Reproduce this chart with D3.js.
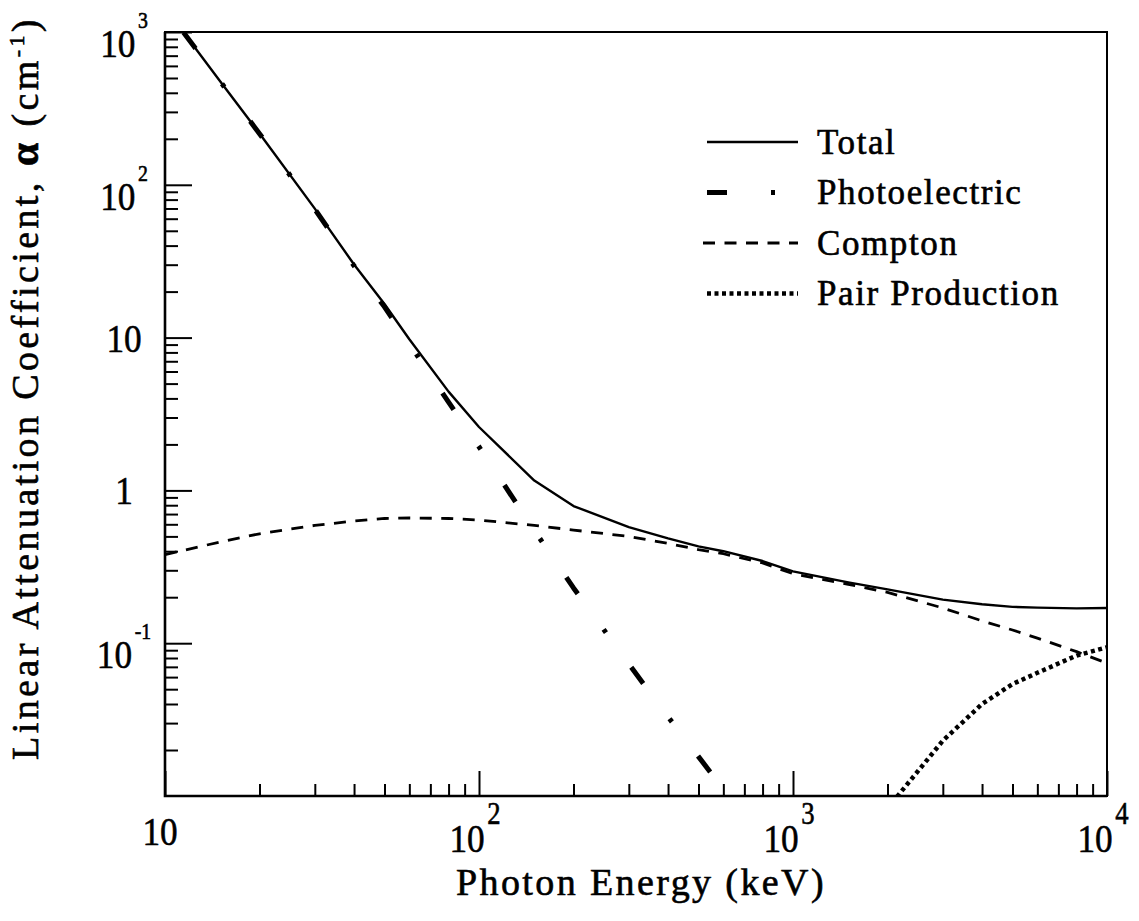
<!DOCTYPE html>
<html>
<head>
<meta charset="utf-8">
<script src="https://cdn.jsdelivr.net/npm/d3@7"></script>
<style>
  html, body { margin: 0; padding: 0; background: #fff; }
  svg { display: block; }
  text { font-family: "Liberation Serif", "Times New Roman", Times, serif; fill: #000;
         stroke: #000; stroke-width: 0.6px; }
</style>
</head>
<body>
<svg id="chart" width="1139" height="921"></svg>
<script>
// Photon energies (keV) and linear attenuation coefficients (cm^-1)
const energy = [10, 15, 20, 30, 40, 50, 60, 80, 100, 150, 200, 300, 400, 500, 600, 800,
                1000, 1500, 2000, 3000, 4000, 5000, 6000, 8000, 10000];
const total = [1442, 474.5, 216.5, 69.8, 30.1, 16.6, 9.76, 4.43, 2.6, 1.16, 0.79, 0.575, 0.485,
               0.43, 0.40, 0.345, 0.295, 0.25, 0.225, 0.193, 0.18, 0.173, 0.171, 0.169, 0.170];
const compton = [0.38, 0.46, 0.52, 0.59, 0.63, 0.655, 0.66, 0.655, 0.64, 0.59, 0.55, 0.50, 0.45,
                 0.41, 0.385, 0.335, 0.285, 0.243, 0.215, 0.17, 0.14, 0.122, 0.108, 0.088, 0.074];

const photoEnergy = [10, 15, 20, 30, 40, 50, 60, 80, 100, 150, 200, 300, 400, 500, 600, 700];
const photoelectric = [1442, 474, 216, 69.2, 29.5, 15.9, 9.10, 3.78, 1.93, 0.548, 0.230, 0.073,
                       0.033, 0.0181, 0.0111, 0.0073];

const pairEnergy = [2000, 3000, 4000, 5000, 6000, 8000, 10000];
const pairProduction = [0.0083, 0.023, 0.040, 0.054, 0.064, 0.083, 0.094];

// Axis ticks and their labels: [base, exponent]
const xMajorTicks = [10, 100, 1000, 10000];
const xTickLabels = [["10", ""], ["10", "2"], ["10", "3"], ["10", "4"]];
const yMajorTicks = [0.1, 1, 10, 100, 1000];
const yTickLabels = [["10", "-1"], ["1", ""], ["10", ""], ["10", "2"], ["10", "3"]];

const legendLabels = ["Total", "Photoelectric", "Compton", "Pair Production"];

// ---- layout ----
const plot = { left: 165, right: 1107, top: 32, bottom: 796 };
const svg = d3.select("#chart");

const x = d3.scaleLog().domain([10, 10000]).range([plot.left, plot.right]);
const y = d3.scaleLog().domain([0.01, 1000]).range([plot.bottom, plot.top]);

// Line styles per series
const styles = {
  total:   { width: 2.4, dash: null, offset: 0 },
  photo:   { width: 5,   dash: "20,44,4,43", offset: 80 },
  compton: { width: 2.8, dash: "12,9.5", offset: 0 },
  pair:    { width: 4.5, dash: "4,3.5", offset: 0 }
};

svg.append("defs").append("clipPath").attr("id", "plot-clip")
  .append("rect")
  .attr("x", plot.left).attr("y", plot.top)
  .attr("width", plot.right - plot.left).attr("height", plot.bottom - plot.top);

// ---- ticks (inward) ----
const minorX = x.ticks().filter(v => !xMajorTicks.includes(v));
const minorY = y.ticks().filter(v => !yMajorTicks.includes(v) && v !== 0.01);

function styleAxis(g) {
  g.select(".domain").remove();
  g.selectAll(".tick line").attr("stroke", "#000").attr("stroke-width", 2);
  g.selectAll(".tick text").remove();
}

svg.append("g").attr("transform", `translate(0,${plot.bottom})`)
  .call(d3.axisBottom(x).tickValues(xMajorTicks).tickSizeInner(-25).tickSizeOuter(0).tickFormat(""))
  .call(styleAxis);
svg.append("g").attr("transform", `translate(0,${plot.bottom})`)
  .call(d3.axisBottom(x).tickValues(minorX).tickSizeInner(-12).tickSizeOuter(0).tickFormat(""))
  .call(styleAxis);
svg.append("g").attr("transform", `translate(${plot.left},0)`)
  .call(d3.axisLeft(y).tickValues(yMajorTicks).tickSizeInner(-27).tickSizeOuter(0).tickFormat(""))
  .call(styleAxis);
svg.append("g").attr("transform", `translate(${plot.left},0)`)
  .call(d3.axisLeft(y).tickValues(minorY).tickSizeInner(-13).tickSizeOuter(0).tickFormat(""))
  .call(styleAxis);

// ---- frame ----
svg.append("rect")
  .attr("x", plot.left).attr("y", plot.top)
  .attr("width", plot.right - plot.left).attr("height", plot.bottom - plot.top)
  .attr("fill", "none").attr("stroke", "#000").attr("stroke-width", 2);
svg.append("path")
  .attr("d", `M${plot.left},${plot.top}V${plot.bottom}H${plot.right}`)
  .attr("fill", "none").attr("stroke", "#000").attr("stroke-width", 2.6);

// ---- tick labels (condensed serif digits) ----
function tickLabel(px, py, base, exp, supSize, supRise) {
  const t = svg.append("text")
    .attr("transform", `translate(${px},${py}) scale(0.86,1)`)
    .attr("text-anchor", "middle")
    .style("font-size", "41px");
  t.append("tspan").text(base);
  if (exp) t.append("tspan").attr("dy", -supRise).attr("dx", 3).style("font-size", supSize).text(exp);
}

xMajorTicks.forEach((v, i) => {
  const [base, exp] = xTickLabels[i];
  tickLabel(x(v) - (exp ? 4 : 5), exp ? 852 : 845, base, exp, "31px", 28);
});

yMajorTicks.forEach((v, i) => {
  const [base, exp] = yTickLabels[i];
  tickLabel(124, y(v) + (exp ? 25 : 14), base, exp, "23px", 29);
});

// ---- axis titles ----
svg.append("text")
  .attr("x", 641).attr("y", 895)
  .attr("text-anchor", "middle")
  .style("font-size", "38px")
  .style("letter-spacing", "2.4px")
  .text("Photon Energy (keV)");

const yTitle = svg.append("text")
  .attr("transform", "translate(38,388) rotate(-90)")
  .attr("text-anchor", "middle")
  .style("font-size", "38px")
  .style("letter-spacing", "3.4px");
yTitle.append("tspan").text("Linear Attenuation Coefficient, ");
yTitle.append("tspan").style("font-weight", "bold").style("font-size", "42px").text("α");
yTitle.append("tspan").text(" (cm");
yTitle.append("tspan").attr("dy", -14).style("font-size", "22px").text("-1");
yTitle.append("tspan").attr("dy", 14).text(")");

// ---- curves ----
const line = d3.line().x(d => x(d[0])).y(d => y(d[1]));
const curves = svg.append("g").attr("clip-path", "url(#plot-clip)");

function drawCurve(xs, ys, st) {
  curves.append("path")
    .datum(d3.zip(xs, ys))
    .attr("d", line)
    .attr("fill", "none")
    .attr("stroke", "#000")
    .attr("stroke-width", st.width)
    .attr("stroke-dasharray", st.dash)
    .attr("stroke-dashoffset", st.offset)
    .attr("stroke-linejoin", "round");
}

drawCurve(energy, compton, styles.compton);
drawCurve(pairEnergy, pairProduction, styles.pair);
drawCurve(photoEnergy, photoelectric, styles.photo);
drawCurve(energy, total, styles.total);

// ---- legend ----
const legendStyles = [styles.total, styles.photo, styles.compton, styles.pair];
const legendLines = [[707, 798], [707, 798], [703, 798], [707, 798]];
const legend = svg.append("g");
legendLabels.forEach((label, i) => {
  const ly = 142 + i * 50.5;
  const st = legendStyles[i];
  legend.append("line")
    .attr("x1", legendLines[i][0]).attr("x2", legendLines[i][1])
    .attr("y1", ly).attr("y2", ly)
    .attr("stroke", "#000")
    .attr("stroke-width", st.width)
    .attr("stroke-dasharray", st.dash);
  legend.append("text")
    .attr("x", 817).attr("y", ly + 11.5)
    .style("font-size", "35px")
    .style("letter-spacing", "1.6px")
    .text(label);
});
</script>
</body>
</html>
